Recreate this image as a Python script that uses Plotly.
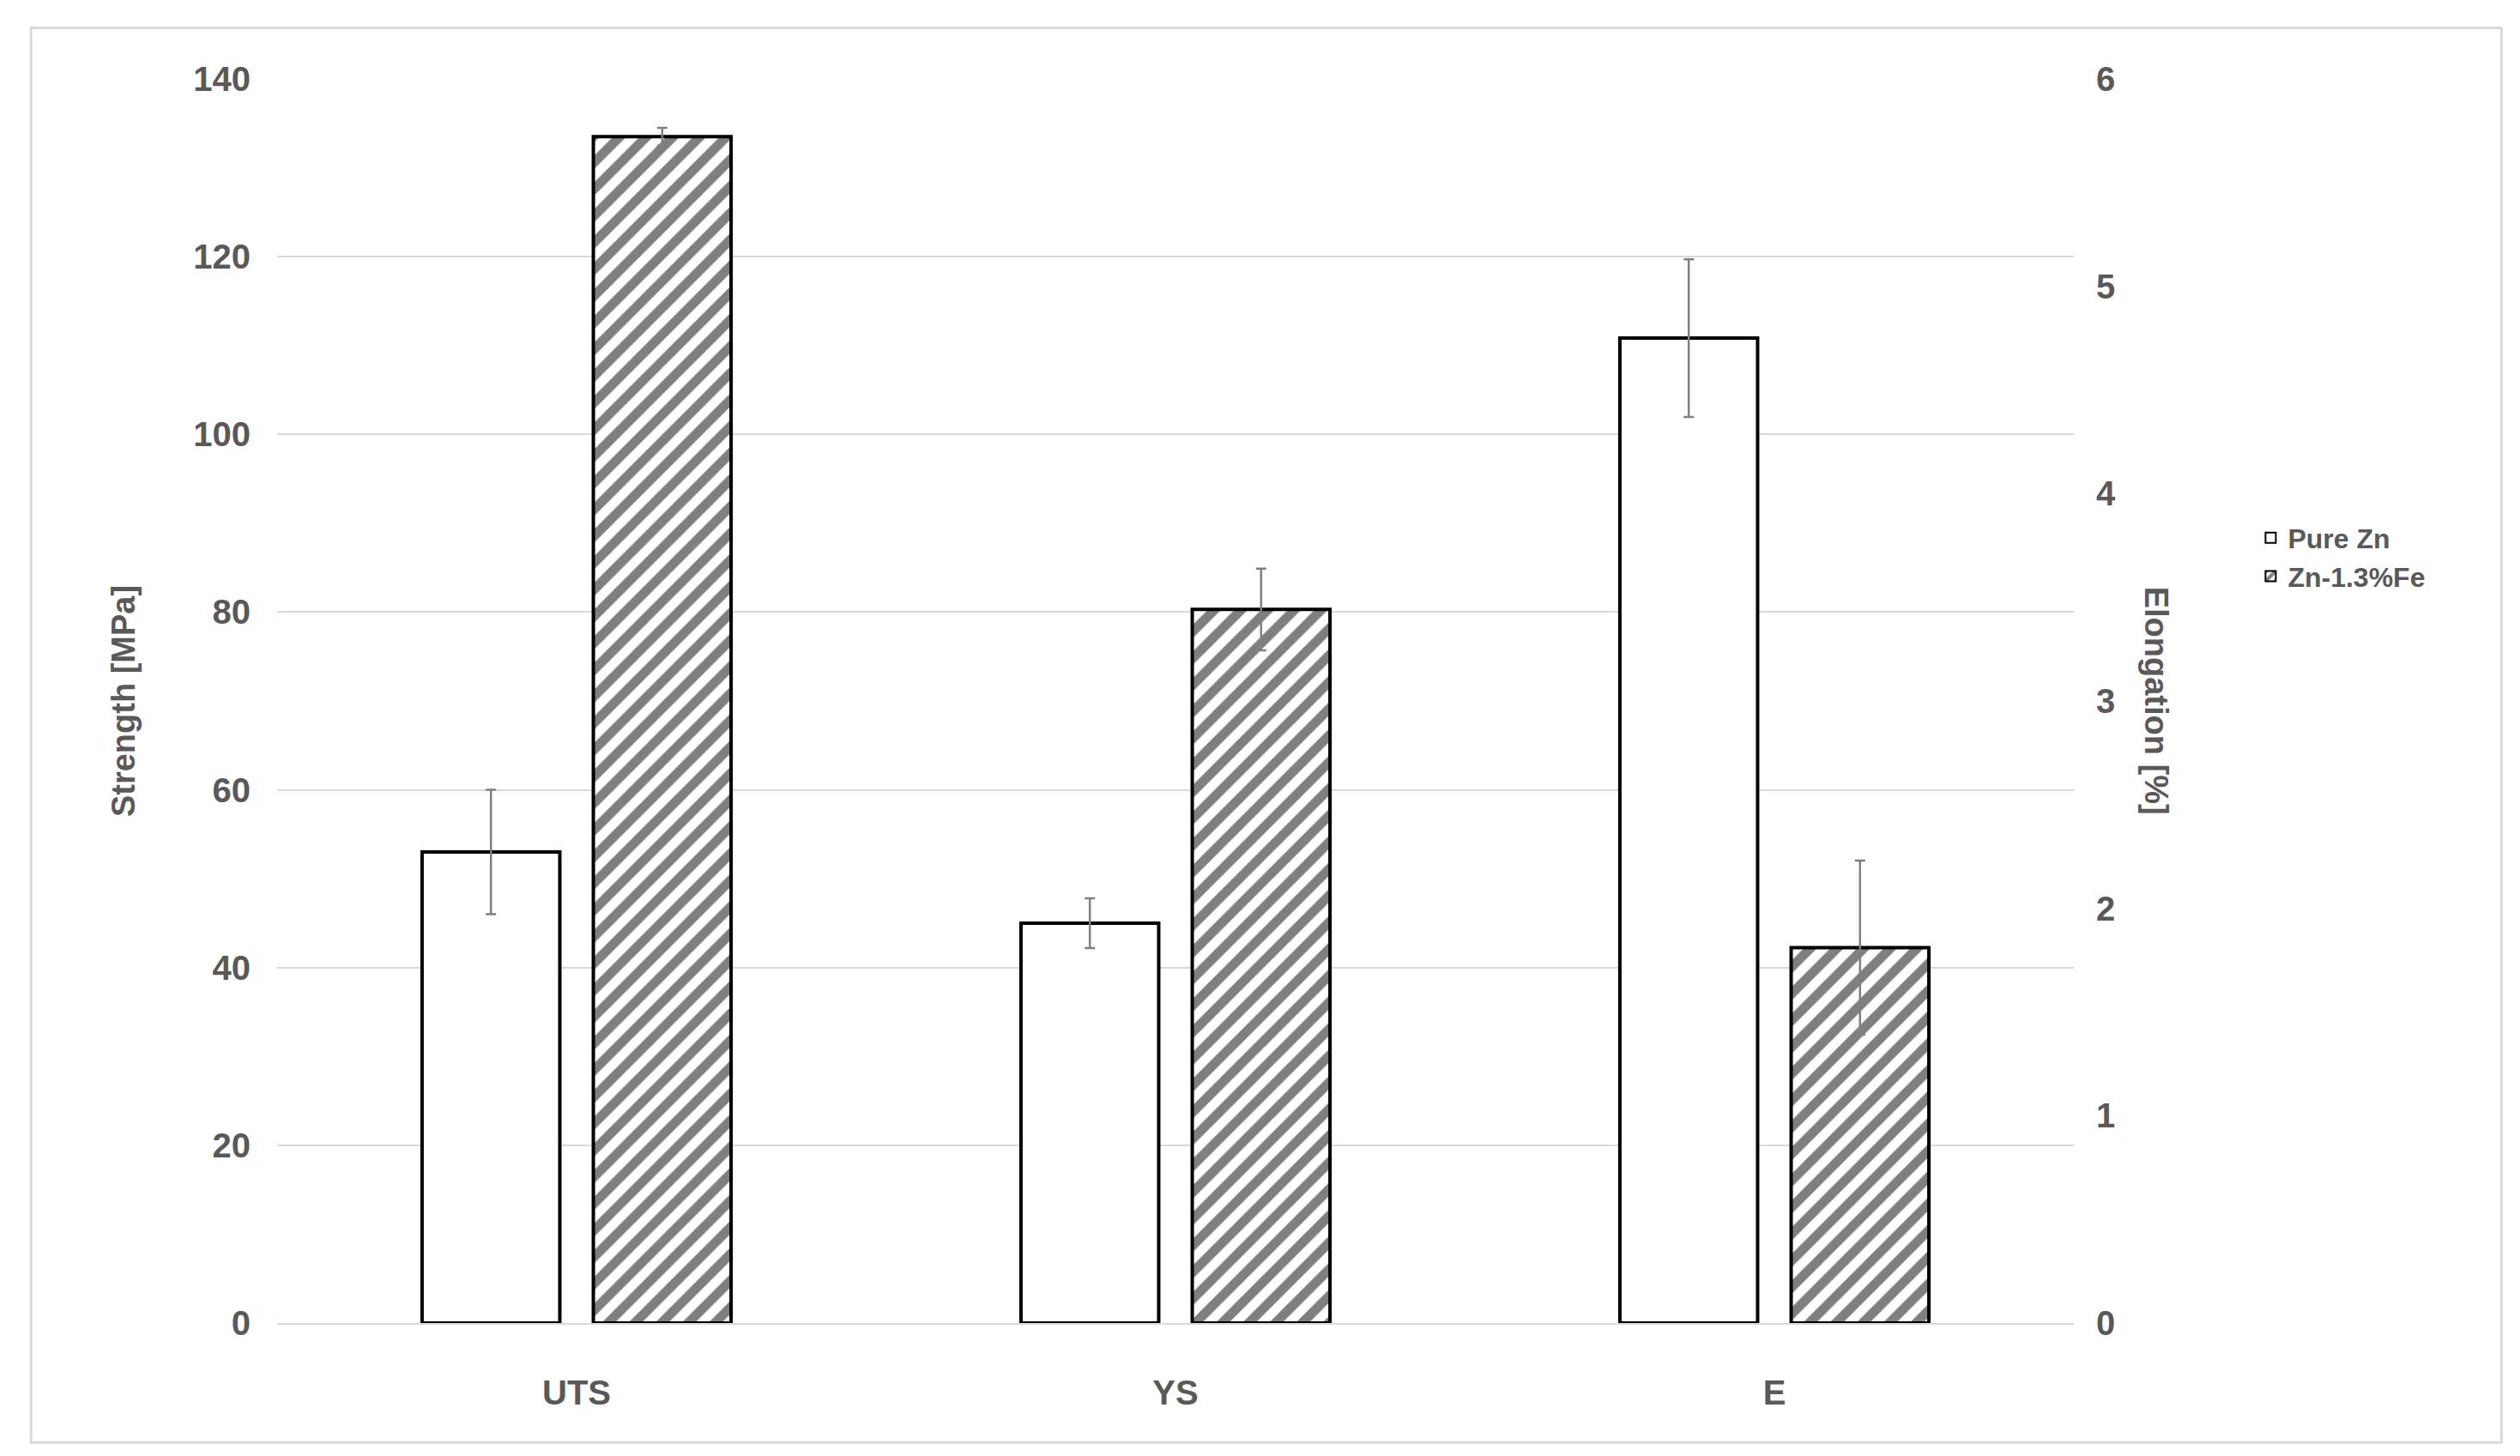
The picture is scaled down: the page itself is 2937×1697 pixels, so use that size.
import plotly.graph_objects as go

categories = ["UTS", "YS", "E"]
strength_cats = ["UTS", "YS"]
pure_strength = [53.0, 45.0]
pure_strength_err = [7.0, 2.8]
fe_strength = [133.5, 80.3]
fe_strength_err = [1.0, 4.6]
pure_elong = [4.75]
pure_elong_err = [0.38]
fe_elong = [1.81]
fe_elong_err = [0.42]

W = 0.23
OFF_P = -0.258
OFF_F = 0.028
err_style = dict(type="data", color="#808080", thickness=2.5, width=6)
pure_style = dict(color="white", line=dict(color="black", width=4))
fe_style = dict(color="white", line=dict(color="black", width=4),
                pattern=dict(shape="/", fgcolor="black", bgcolor="white", size=22, solidity=0.5))

fig = go.Figure()
fig.add_bar(x=strength_cats, y=pure_strength, name="<b>Pure Zn</b>", width=W, offset=OFF_P,
            marker=pure_style, error_y=dict(array=pure_strength_err, **err_style), yaxis="y")
fig.add_bar(x=strength_cats, y=fe_strength, name="<b>Zn-1.3%Fe</b>", width=W, offset=OFF_F,
            marker=fe_style, error_y=dict(array=fe_strength_err, **err_style), yaxis="y")
fig.add_bar(x=["E"], y=pure_elong, name="Pure Zn", width=W, offset=OFF_P, showlegend=False,
            marker=pure_style, error_y=dict(array=pure_elong_err, **err_style), yaxis="y2")
fig.add_bar(x=["E"], y=fe_elong, name="Zn-1.3%Fe", width=W, offset=OFF_F, showlegend=False,
            marker=fe_style, error_y=dict(array=fe_elong_err, **err_style), yaxis="y2")

tick_font = dict(family="Liberation Sans, Arial", size=40, color="#595959", weight="bold")
fig.update_layout(
    width=2937, height=1697, paper_bgcolor="white", plot_bgcolor="white",
    margin=dict(l=315, r=528, t=84, b=163),
    barmode="overlay",
    font=dict(family="Liberation Sans, Arial", color="#595959"),
    xaxis=dict(categoryorder="array", categoryarray=categories, tickfont=tick_font,
               ticklabelstandoff=45, showline=True, linecolor="#d9d9d9", linewidth=2,
               ticks="", range=[-0.5, 2.5]),
    yaxis=dict(range=[0, 140], dtick=20, tickfont=tick_font, gridcolor="#d9d9d9", gridwidth=2,
               zeroline=False, ticklabelstandoff=30,
               title=dict(text="<b>Strength [MPa]</b>", font=dict(size=38, color="#595959"), standoff=55)),
    yaxis2=dict(range=[0, 6], dtick=1, overlaying="y", side="right", tickfont=tick_font,
                showgrid=False, zeroline=False, ticklabelstandoff=25),
    legend=dict(x=1.1, y=0.65, xanchor="left", yanchor="top", font=dict(size=32, color="#595959"),
                tracegroupgap=110, itemsizing="constant", itemwidth=30),
    shapes=[dict(type="rect", xref="paper", yref="paper", x0=-0.137, x1=1.238, y0=-0.096, y1=1.041,
                 line=dict(color="#d9d9d9", width=3))],
    annotations=[dict(text="<b>Elongation [%]</b>", textangle=90, xref="paper", yref="paper", x=1.057, y=0.5,
                      showarrow=False, font=dict(size=38, color="#595959"))],
)
fig.write_html("out.html")
